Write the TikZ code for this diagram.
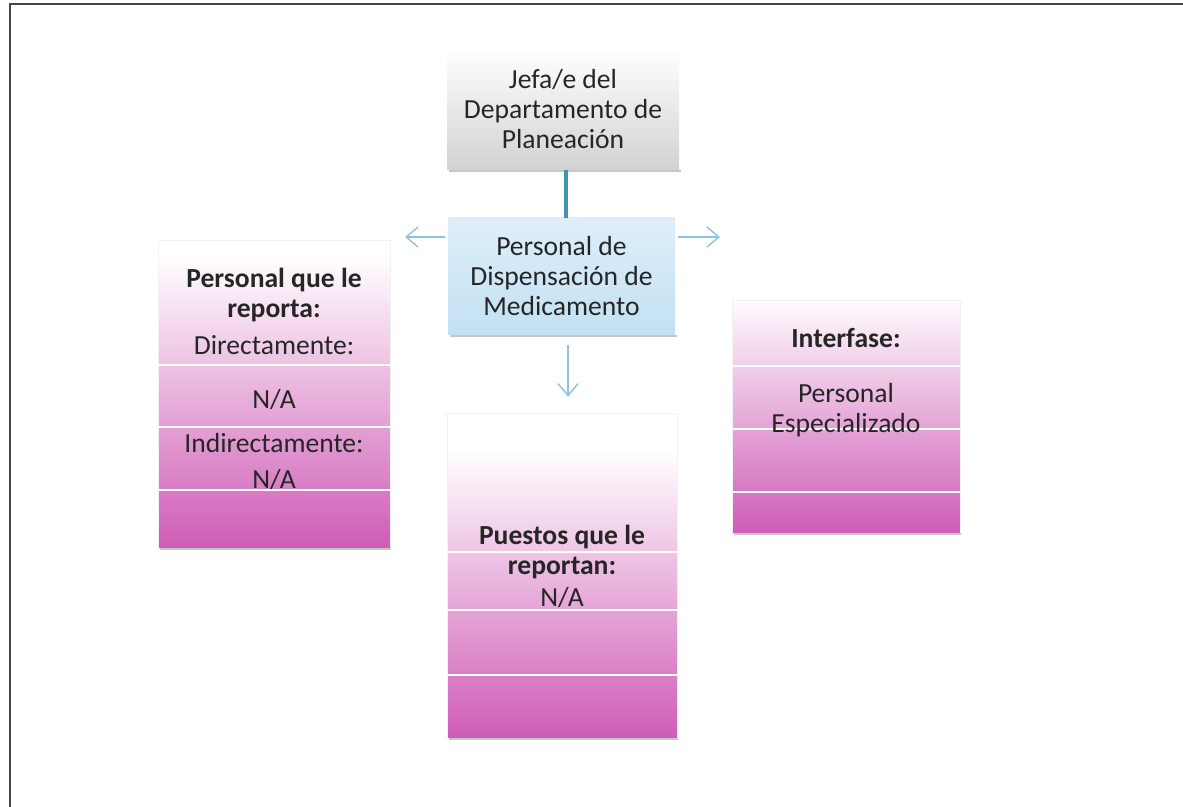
\documentclass[tikz,border=0pt]{standalone}
\usepackage{fontspec}
\setmainfont{Carlito}
\usetikzlibrary{arrows.meta,calc}
\definecolor{pinkB}{RGB}{207,92,182}
\definecolor{blueT}{RGB}{222,239,250}
\definecolor{blueB}{RGB}{194,224,243}
\definecolor{grayB}{RGB}{210,210,210}
\definecolor{tealc}{RGB}{64,150,178}
\definecolor{arrowblue}{RGB}{140,195,228}
\definecolor{framegray}{RGB}{70,70,70}
\definecolor{txt}{RGB}{38,38,38}
\tikzset{
  boxtext/.style={text=txt, align=center, inner sep=0pt},
  boldtext/.style={boxtext, font=\fontsize{13.8}{15}\selectfont\bfseries},
  graybox/.style={boxtext, top color=white, bottom color=grayB, minimum width=116pt, minimum height=61pt},
  bluebox/.style={boxtext, top color=blueT, bottom color=blueB, minimum width=113.5pt, minimum height=58.5pt},
  pinkframe/.style={draw=black!5, line width=0.3pt, minimum width=116pt, inner sep=0pt},
  sep/.style={white, line width=1.1pt},
  shadowline/.style={black!22, line width=1pt},
  arr/.style={arrowblue, line width=0.7pt, -{Straight Barb[length=6pt,width=10pt]}},
  tealline/.style={tealc, line width=2pt}
}
\begin{document}
\begin{tikzpicture}[x=0.5pt,y=-0.5pt, font=\fontsize{13.8}{15}\selectfont]
\useasboundingbox (0,0) rectangle (1183,807);
\fill[white] (0,0) rectangle (1183,807);
% frame
\draw[framegray, line width=1.3pt] (10,807) -- (10,4) -- (1183,4);

% top boxes
\draw[shadowline] (449,171) -- (681,171);
\node[graybox] (jefe) at (563,109) {Jefa/e del\\Departamento de\\Planeación};
\draw[shadowline] (450,336) -- (677,336);
\node[bluebox] (pers) at (561.5,276.5) {Personal de\\Dispensación de\\Medicamento};

% left pink box
\shade[top color=white, bottom color=pinkB] (158,255) rectangle (390,548);
\node[pinkframe, minimum height=154pt] (left) at (274,394) {};
\draw[sep] (158,365) -- (390,365);
\draw[sep] (158,427) -- (390,427);
\draw[sep] (158,490) -- (390,490);
\draw[shadowline] (160,549) -- (391,549);
\node[boldtext] (lt1) at (274,294.5) {Personal que le\\reporta:};
\node[boxtext] (lt2) at (274,345) {Directamente:};
\node[boxtext] (lt3) at (274,400) {N/A};
\node[boxtext] (lt4) at (274,443) {Indirectamente:};
\node[boxtext] (lt5) at (274,480) {N/A};

% right pink box
\shade[top color=white, bottom color=pinkB] (732,295) rectangle (960,533);
\node[pinkframe, minimum width=114pt, minimum height=116.5pt] (right) at (846,416.5) {};
\draw[sep] (732,366) -- (960,366);
\draw[sep] (732,429) -- (960,429);
\draw[sep] (732,492) -- (960,492);
\draw[shadowline] (734,534) -- (961,534);
\node[boldtext] (rt1) at (846,338) {Interfase:};
\node[boxtext] (rt2) at (846,410) {Personal\\Especializado};

% center pink box
\shade[top color=white, bottom color=pinkB] (447,450) rectangle (677,738);
\node[pinkframe, minimum width=115pt, minimum height=162.5pt] (center) at (562,575.5) {};
\draw[sep] (447,552) -- (677,552);
\draw[sep] (447,610) -- (677,610);
\draw[sep] (447,675) -- (677,675);
\draw[shadowline] (449,739) -- (678,739);
\node[boldtext] (ct1) at (562,552) {Puestos que le\\reportan:};
\node[boxtext] (ct2) at (562,598) {N/A};

% connectors
\coordinate (tc) at (566,0);
\draw[tealline] (jefe.south -| tc) -- (pers.north -| tc);
\coordinate (la) at (405,237);
\coordinate (ra) at (720,237);
\draw[arr, shorten <=1.5pt] (pers.west |- la) -- (la);
\draw[arr, shorten <=1.5pt] (pers.east |- ra) -- (ra);
\coordinate (dc) at (568,0);
\draw[arr, shorten <=5pt, shorten >=8pt] (pers.south -| dc) -- (center.north -| dc);
\end{tikzpicture}
\end{document}
